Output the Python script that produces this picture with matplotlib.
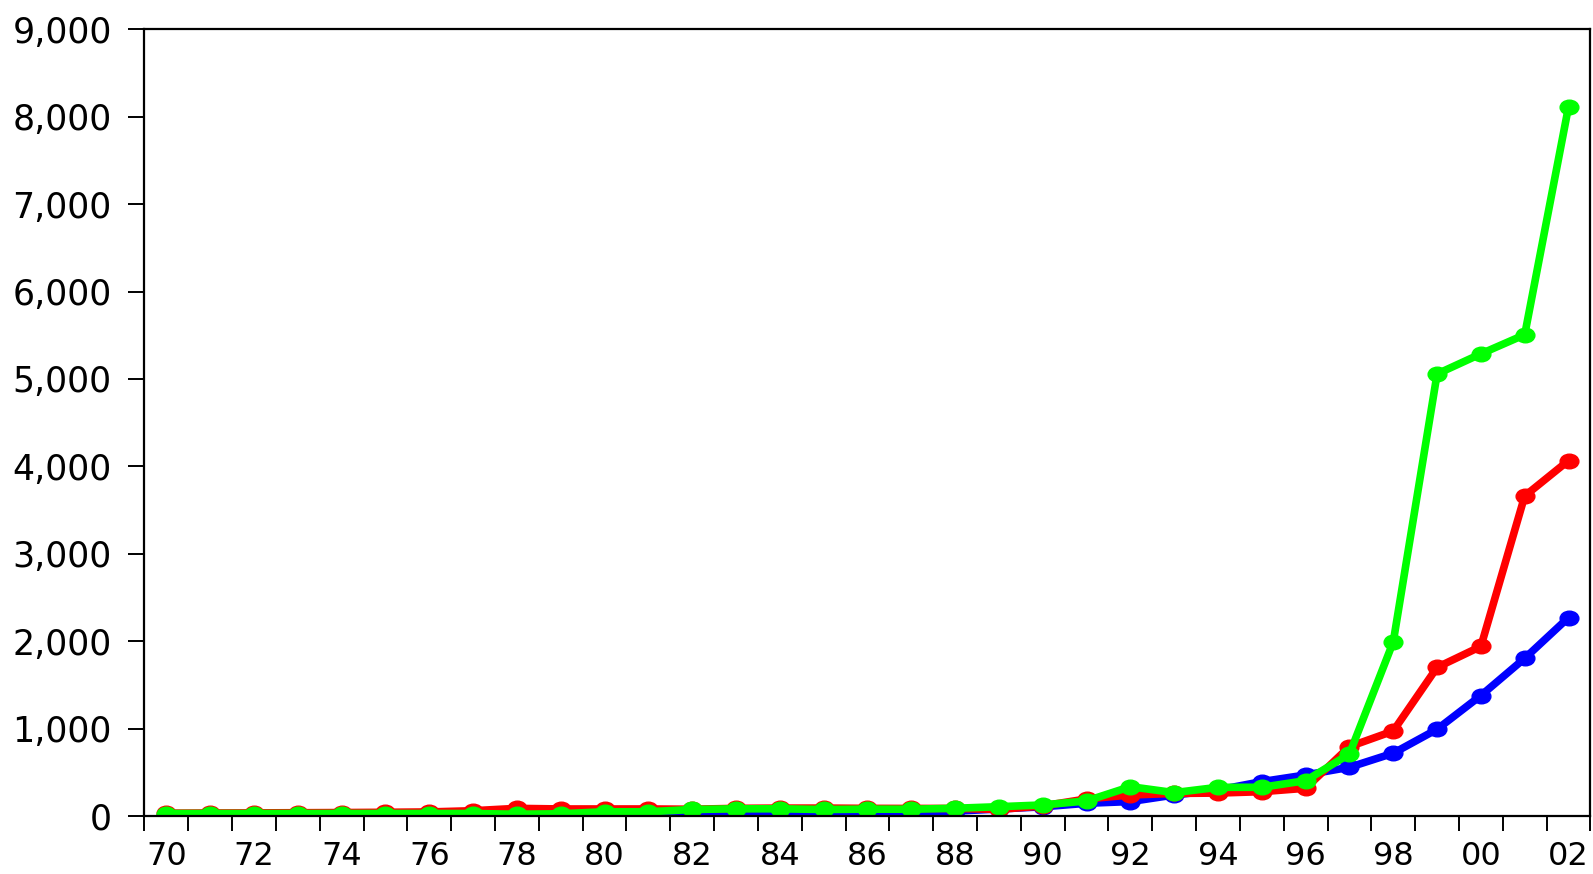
import matplotlib.pyplot as plt
from matplotlib.path import Path
from matplotlib.ticker import FuncFormatter, FixedLocator

years = list(range(1970, 2003))

blue = [5, 6, 7, 8, 10, 12, 14, 16, 20, 22, 25, 28, 30, 33, 36, 40, 45, 50, 55,
        80, 105, 145, 165, 240, 297, 393, 469, 557, 718, 992, 1378, 1804, 2270]
red = [32, 34, 35, 37, 39, 42, 46, 60, 87, 80, 80, 80, 77, 87, 90, 90, 87, 86, 86,
       75, 115, 195, 240, 258, 262, 278, 317, 793, 972, 1700, 1940, 3661, 4066]
green = [28, 28, 28, 28, 28, 28, 28, 28, 20, 25, 48, 48, 74, 82, 82, 74, 78, 77, 88,
         106, 126, 172, 335, 267, 328, 328, 404, 709, 1992, 5057, 5287, 5506, 8115]

year_labels = [f"{y % 100:02d}" for y in range(1970, 2003, 2)]

plt.rcParams["font.family"] = ["DejaVu Sans"]

# markers in the original are slightly squashed circles
circ = Path.unit_circle()
dot = Path(circ.vertices * [1.0, 0.78], circ.codes)

fig = plt.figure(figsize=(15.93, 8.74), dpi=100)
ax = fig.add_axes([0.0907, 0.0664, 0.9077, 0.9001])

x = [y + 0.5 for y in years]
for vals, col in [(blue, "#0000ff"), (red, "#ff0000"), (green, "#00ff00")]:
    ax.plot(x, vals, color=col, linewidth=5.5, marker=dot, markersize=13.5,
            solid_joinstyle="round")

ax.set_xlim(1970, 2003)
ax.set_ylim(0, 9000)

ax.xaxis.set_major_locator(FixedLocator(range(1970, 2004)))
ax.xaxis.set_minor_locator(FixedLocator([y + 0.5 for y in range(1970, 2003, 2)]))
ax.set_xticklabels([], minor=False)
ax.set_xticklabels(year_labels, minor=True)
ax.tick_params(axis="x", which="major", direction="out", length=10.5, width=1.4)
ax.tick_params(axis="x", which="minor", length=0, pad=18, labelsize=23)

ax.set_yticks(range(0, 9001, 1000))
ax.yaxis.set_major_formatter(FuncFormatter(lambda v, p: f"{int(v):,}"))
ax.tick_params(axis="y", direction="out", length=11.5, width=1.4, pad=12, labelsize=25)

for s in ax.spines.values():
    s.set_linewidth(1.6)

plt.savefig("out.png", dpi=100)
plt.close()
